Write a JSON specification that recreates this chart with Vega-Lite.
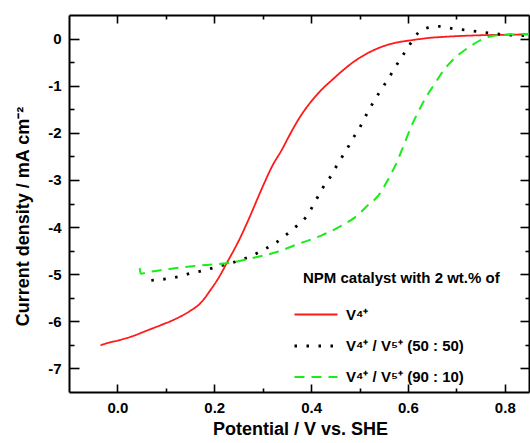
{
  "$schema": "https://vega.github.io/schema/vega-lite/v6.json",
  "width": 460,
  "height": 377,
  "autosize": {"type": "none"},
  "padding": {"left": 69, "top": 15, "right": 1, "bottom": 51},
  "background": "white",
  "config": {
    "view": {"stroke": null},
    "font": "Liberation Sans",
    "axis": {
      "grid": false,
      "domainColor": "black",
      "domainWidth": 2,
      "tickColor": "black",
      "tickWidth": 1.6,
      "labelFont": "Liberation Sans",
      "labelFontSize": 15,
      "labelFontWeight": "bold",
      "labelColor": "black",
      "titleFont": "Liberation Sans",
      "titleFontSize": 18,
      "titleFontWeight": "bold",
      "titleColor": "black"
    }
  },
  "data": {
    "values": [
      {"s": "V⁴⁺", "x": -0.035, "y": -6.51},
      {"s": "V⁴⁺", "x": -0.02, "y": -6.46},
      {"s": "V⁴⁺", "x": 0.0, "y": -6.41},
      {"s": "V⁴⁺", "x": 0.03, "y": -6.32},
      {"s": "V⁴⁺", "x": 0.06, "y": -6.2},
      {"s": "V⁴⁺", "x": 0.09, "y": -6.08},
      {"s": "V⁴⁺", "x": 0.12, "y": -5.95},
      {"s": "V⁴⁺", "x": 0.15, "y": -5.78},
      {"s": "V⁴⁺", "x": 0.17, "y": -5.63},
      {"s": "V⁴⁺", "x": 0.194, "y": -5.31},
      {"s": "V⁴⁺", "x": 0.21, "y": -5.06},
      {"s": "V⁴⁺", "x": 0.225, "y": -4.78},
      {"s": "V⁴⁺", "x": 0.252, "y": -4.26},
      {"s": "V⁴⁺", "x": 0.27, "y": -3.86},
      {"s": "V⁴⁺", "x": 0.29, "y": -3.38},
      {"s": "V⁴⁺", "x": 0.304, "y": -3.05},
      {"s": "V⁴⁺", "x": 0.32, "y": -2.7},
      {"s": "V⁴⁺", "x": 0.339, "y": -2.37},
      {"s": "V⁴⁺", "x": 0.356, "y": -2.04},
      {"s": "V⁴⁺", "x": 0.373, "y": -1.73},
      {"s": "V⁴⁺", "x": 0.39, "y": -1.47},
      {"s": "V⁴⁺", "x": 0.408, "y": -1.24},
      {"s": "V⁴⁺", "x": 0.425, "y": -1.05},
      {"s": "V⁴⁺", "x": 0.442, "y": -0.89},
      {"s": "V⁴⁺", "x": 0.465, "y": -0.68},
      {"s": "V⁴⁺", "x": 0.487, "y": -0.5},
      {"s": "V⁴⁺", "x": 0.515, "y": -0.32},
      {"s": "V⁴⁺", "x": 0.542, "y": -0.19},
      {"s": "V⁴⁺", "x": 0.57, "y": -0.1},
      {"s": "V⁴⁺", "x": 0.611, "y": -0.03},
      {"s": "V⁴⁺", "x": 0.64, "y": 0.01},
      {"s": "V⁴⁺", "x": 0.68, "y": 0.04},
      {"s": "V⁴⁺", "x": 0.749, "y": 0.07},
      {"s": "V⁴⁺", "x": 0.8, "y": 0.08},
      {"s": "V⁴⁺", "x": 0.85, "y": 0.09},

      {"s": "V⁴⁺ / V⁵⁺ (50 : 50)", "x": 0.07, "y": -5.13},
      {"s": "V⁴⁺ / V⁵⁺ (50 : 50)", "x": 0.1, "y": -5.1},
      {"s": "V⁴⁺ / V⁵⁺ (50 : 50)", "x": 0.127, "y": -5.05},
      {"s": "V⁴⁺ / V⁵⁺ (50 : 50)", "x": 0.152, "y": -4.98},
      {"s": "V⁴⁺ / V⁵⁺ (50 : 50)", "x": 0.175, "y": -4.93},
      {"s": "V⁴⁺ / V⁵⁺ (50 : 50)", "x": 0.2, "y": -4.86},
      {"s": "V⁴⁺ / V⁵⁺ (50 : 50)", "x": 0.225, "y": -4.79},
      {"s": "V⁴⁺ / V⁵⁺ (50 : 50)", "x": 0.252, "y": -4.71},
      {"s": "V⁴⁺ / V⁵⁺ (50 : 50)", "x": 0.279, "y": -4.6},
      {"s": "V⁴⁺ / V⁵⁺ (50 : 50)", "x": 0.302, "y": -4.48},
      {"s": "V⁴⁺ / V⁵⁺ (50 : 50)", "x": 0.326, "y": -4.34},
      {"s": "V⁴⁺ / V⁵⁺ (50 : 50)", "x": 0.349, "y": -4.16},
      {"s": "V⁴⁺ / V⁵⁺ (50 : 50)", "x": 0.37, "y": -3.98},
      {"s": "V⁴⁺ / V⁵⁺ (50 : 50)", "x": 0.39, "y": -3.78},
      {"s": "V⁴⁺ / V⁵⁺ (50 : 50)", "x": 0.41, "y": -3.43},
      {"s": "V⁴⁺ / V⁵⁺ (50 : 50)", "x": 0.424, "y": -3.17},
      {"s": "V⁴⁺ / V⁵⁺ (50 : 50)", "x": 0.442, "y": -2.9},
      {"s": "V⁴⁺ / V⁵⁺ (50 : 50)", "x": 0.456, "y": -2.64},
      {"s": "V⁴⁺ / V⁵⁺ (50 : 50)", "x": 0.472, "y": -2.38},
      {"s": "V⁴⁺ / V⁵⁺ (50 : 50)", "x": 0.487, "y": -2.11},
      {"s": "V⁴⁺ / V⁵⁺ (50 : 50)", "x": 0.502, "y": -1.86},
      {"s": "V⁴⁺ / V⁵⁺ (50 : 50)", "x": 0.515, "y": -1.6},
      {"s": "V⁴⁺ / V⁵⁺ (50 : 50)", "x": 0.528, "y": -1.36},
      {"s": "V⁴⁺ / V⁵⁺ (50 : 50)", "x": 0.543, "y": -1.11},
      {"s": "V⁴⁺ / V⁵⁺ (50 : 50)", "x": 0.559, "y": -0.86},
      {"s": "V⁴⁺ / V⁵⁺ (50 : 50)", "x": 0.573, "y": -0.62},
      {"s": "V⁴⁺ / V⁵⁺ (50 : 50)", "x": 0.588, "y": -0.38},
      {"s": "V⁴⁺ / V⁵⁺ (50 : 50)", "x": 0.603, "y": -0.14},
      {"s": "V⁴⁺ / V⁵⁺ (50 : 50)", "x": 0.622, "y": 0.13},
      {"s": "V⁴⁺ / V⁵⁺ (50 : 50)", "x": 0.642, "y": 0.23},
      {"s": "V⁴⁺ / V⁵⁺ (50 : 50)", "x": 0.665, "y": 0.26},
      {"s": "V⁴⁺ / V⁵⁺ (50 : 50)", "x": 0.693, "y": 0.21},
      {"s": "V⁴⁺ / V⁵⁺ (50 : 50)", "x": 0.722, "y": 0.18},
      {"s": "V⁴⁺ / V⁵⁺ (50 : 50)", "x": 0.748, "y": 0.14},
      {"s": "V⁴⁺ / V⁵⁺ (50 : 50)", "x": 0.775, "y": 0.11},
      {"s": "V⁴⁺ / V⁵⁺ (50 : 50)", "x": 0.801, "y": 0.08},
      {"s": "V⁴⁺ / V⁵⁺ (50 : 50)", "x": 0.825, "y": 0.07},
      {"s": "V⁴⁺ / V⁵⁺ (50 : 50)", "x": 0.85, "y": 0.06},

      {"s": "V⁴⁺ / V⁵⁺ (90 : 10)", "x": 0.046, "y": -4.87},
      {"s": "V⁴⁺ / V⁵⁺ (90 : 10)", "x": 0.048, "y": -4.99},
      {"s": "V⁴⁺ / V⁵⁺ (90 : 10)", "x": 0.066, "y": -4.95},
      {"s": "V⁴⁺ / V⁵⁺ (90 : 10)", "x": 0.1, "y": -4.9},
      {"s": "V⁴⁺ / V⁵⁺ (90 : 10)", "x": 0.128, "y": -4.86},
      {"s": "V⁴⁺ / V⁵⁺ (90 : 10)", "x": 0.19, "y": -4.8},
      {"s": "V⁴⁺ / V⁵⁺ (90 : 10)", "x": 0.225, "y": -4.77},
      {"s": "V⁴⁺ / V⁵⁺ (90 : 10)", "x": 0.273, "y": -4.67},
      {"s": "V⁴⁺ / V⁵⁺ (90 : 10)", "x": 0.329, "y": -4.53},
      {"s": "V⁴⁺ / V⁵⁺ (90 : 10)", "x": 0.373, "y": -4.36},
      {"s": "V⁴⁺ / V⁵⁺ (90 : 10)", "x": 0.421, "y": -4.18},
      {"s": "V⁴⁺ / V⁵⁺ (90 : 10)", "x": 0.47, "y": -3.93},
      {"s": "V⁴⁺ / V⁵⁺ (90 : 10)", "x": 0.49, "y": -3.8},
      {"s": "V⁴⁺ / V⁵⁺ (90 : 10)", "x": 0.515, "y": -3.56},
      {"s": "V⁴⁺ / V⁵⁺ (90 : 10)", "x": 0.542, "y": -3.29},
      {"s": "V⁴⁺ / V⁵⁺ (90 : 10)", "x": 0.558, "y": -3.01},
      {"s": "V⁴⁺ / V⁵⁺ (90 : 10)", "x": 0.578, "y": -2.6},
      {"s": "V⁴⁺ / V⁵⁺ (90 : 10)", "x": 0.59, "y": -2.3},
      {"s": "V⁴⁺ / V⁵⁺ (90 : 10)", "x": 0.607, "y": -1.86},
      {"s": "V⁴⁺ / V⁵⁺ (90 : 10)", "x": 0.62, "y": -1.58},
      {"s": "V⁴⁺ / V⁵⁺ (90 : 10)", "x": 0.637, "y": -1.25},
      {"s": "V⁴⁺ / V⁵⁺ (90 : 10)", "x": 0.656, "y": -0.95},
      {"s": "V⁴⁺ / V⁵⁺ (90 : 10)", "x": 0.672, "y": -0.7},
      {"s": "V⁴⁺ / V⁵⁺ (90 : 10)", "x": 0.69, "y": -0.48},
      {"s": "V⁴⁺ / V⁵⁺ (90 : 10)", "x": 0.705, "y": -0.34},
      {"s": "V⁴⁺ / V⁵⁺ (90 : 10)", "x": 0.725, "y": -0.19},
      {"s": "V⁴⁺ / V⁵⁺ (90 : 10)", "x": 0.749, "y": -0.04},
      {"s": "V⁴⁺ / V⁵⁺ (90 : 10)", "x": 0.777, "y": 0.06},
      {"s": "V⁴⁺ / V⁵⁺ (90 : 10)", "x": 0.81, "y": 0.085},
      {"s": "V⁴⁺ / V⁵⁺ (90 : 10)", "x": 0.85, "y": 0.09}
    ]
  },
  "resolve": {"axis": {"x": "independent", "y": "independent"}},
  "layer": [
    {
      "mark": {"type": "line", "interpolate": "monotone"},
      "encoding": {
        "x": {
          "field": "x", "type": "quantitative",
          "scale": {"domain": [-0.1, 0.85], "nice": false, "zero": false},
          "axis": {
            "orient": "bottom",
            "title": "Potential / V vs. SHE",
            "titleBaseline": "alphabetic",
            "titleY": 42.5,
            "titleX": 231,
            "values": [0, 0.1, 0.2, 0.3, 0.4, 0.5, 0.6, 0.7, 0.8],
            "labelExpr": "round(datum.value*10) % 2 === 0 ? format(datum.value, '.1f') : ''",
            "tickSize": {"condition": {"test": "round(datum.value*10) % 2 === 0", "value": -8}, "value": -4},
            "labelPadding": 16,
            "labelFlush": false,
            "labelOverlap": false
          }
        },
        "y": {
          "field": "y", "type": "quantitative",
          "scale": {"domain": [-7.5, 0.5], "nice": false, "zero": false},
          "axis": {
            "orient": "left",
            "title": "Current density / mA cm⁻²",
            "titleAngle": -90,
            "titleAlign": "center",
            "titleBaseline": "alphabetic",
            "titleX": -41,
            "titleY": 201,
            "values": [-7, -6.5, -6, -5.5, -5, -4.5, -4, -3.5, -3, -2.5, -2, -1.5, -1, -0.5, 0],
            "labelExpr": "round(datum.value*2) % 2 === 0 ? '' + datum.value : ''",
            "tickSize": {"condition": {"test": "round(datum.value*2) % 2 === 0", "value": -10}, "value": -5},
            "labelPadding": 18,
            "labelFlush": false,
            "labelOverlap": false
          }
        },
        "color": {
          "field": "s", "type": "nominal",
          "scale": {
            "domain": ["V⁴⁺", "V⁴⁺ / V⁵⁺ (50 : 50)", "V⁴⁺ / V⁵⁺ (90 : 10)"],
            "range": ["#ff1a1a", "#000000", "#1aeb1a"]
          },
          "legend": {
            "orient": "none",
            "legendX": 234,
            "legendY": 256,
            "title": "NPM catalyst with 2 wt.% of",
            "titleFont": "Liberation Sans",
            "titleFontSize": 15,
            "titleFontWeight": "bold",
            "titleColor": "black",
            "titleLimit": 400,
            "titlePadding": 6,
            "labelFont": "Liberation Sans",
            "labelFontSize": 15,
            "labelFontWeight": "bold",
            "labelColor": "black",
            "labelLimit": 400,
            "labelOffset": 7,
            "symbolType": "stroke",
            "symbolSize": 1850,
            "symbolStrokeWidth": 2.2,
            "symbolOffset": -10,
            "rowPadding": -5,
            "padding": 0
          }
        },
        "strokeDash": {
          "field": "s", "type": "nominal",
          "scale": {
            "domain": ["V⁴⁺", "V⁴⁺ / V⁵⁺ (50 : 50)", "V⁴⁺ / V⁵⁺ (90 : 10)"],
            "range": [[1, 0], [2.5, 9.5], [10, 7]]
          },
          "legend": {
            "orient": "none",
            "legendX": 234,
            "legendY": 256,
            "title": "NPM catalyst with 2 wt.% of"
          }
        },
        "strokeWidth": {
          "field": "s", "type": "nominal",
          "scale": {
            "type": "ordinal",
            "domain": ["V⁴⁺", "V⁴⁺ / V⁵⁺ (50 : 50)", "V⁴⁺ / V⁵⁺ (90 : 10)"],
            "range": [1.8, 2.8, 2]
          },
          "legend": null
        },
        "detail": {"field": "s"}
      }
    },
    {
      "mark": {"type": "line", "opacity": 0},
      "encoding": {
        "x": {
          "field": "x", "type": "quantitative",
          "axis": {
            "orient": "top",
            "title": null,
            "labels": false,
            "values": [0, 0.1, 0.2, 0.3, 0.4, 0.5, 0.6, 0.7, 0.8],
            "tickSize": {"condition": {"test": "round(datum.value*10) % 2 === 0", "value": -8}, "value": -4}
          }
        },
        "y": {
          "field": "y", "type": "quantitative",
          "axis": {
            "orient": "right",
            "title": null,
            "labels": false,
            "values": [-7, -6.5, -6, -5.5, -5, -4.5, -4, -3.5, -3, -2.5, -2, -1.5, -1, -0.5, 0],
            "tickSize": {"condition": {"test": "round(datum.value*2) % 2 === 0", "value": -9}, "value": -4}
          }
        },
        "detail": {"field": "s"}
      }
    }
  ]
}
